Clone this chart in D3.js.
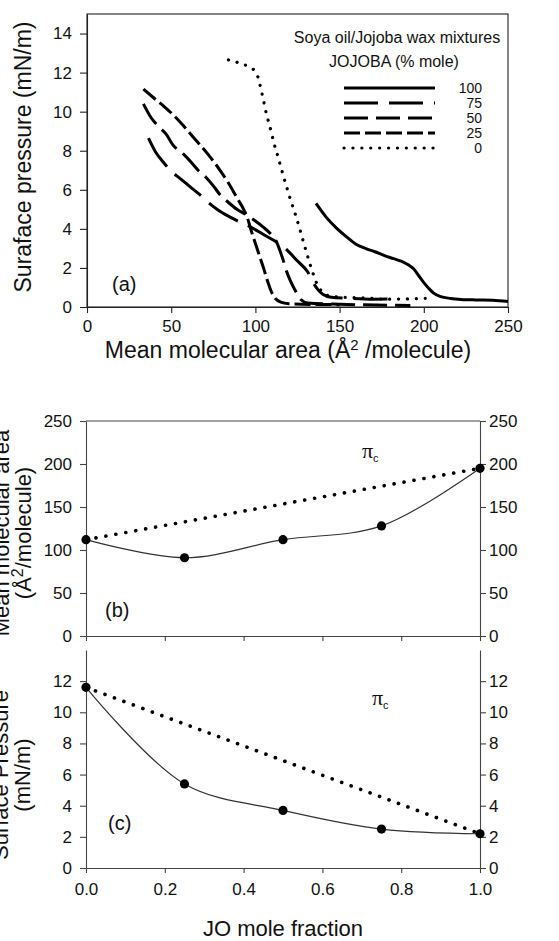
<!DOCTYPE html>
<html>
<head>
<meta charset="utf-8">
<script src="https://cdn.jsdelivr.net/npm/d3@7"></script>
<style>
body { margin: 0; background: #fff; }
text { font-family: "Liberation Sans", Arial, sans-serif; fill: #111; }
</style>
</head>
<body>
<div id="chart"></div>
<script>
// panel (a) isotherms, [mean molecular area, surface pressure]
var jojoba100 = [[136,5.3],[142,4.6],[148,4.05],[154,3.6],[160,3.2],[166,2.98],[171,2.83],[177,2.62],[182,2.48],[187,2.33],[191,2.15],[194.5,1.9],[197,1.6],[200,1.25],[203,0.95],[206,0.7],[210,0.53],[216,0.44],[222,0.39],[231,0.36],[241,0.34],[250,0.28]];
var jojoba75 = [[36.5,8.65],[41,7.9],[45,7.45],[50,6.95],[55,6.6],[62,6.1],[67,5.75],[72,5.35],[78,4.95],[85,4.6],[92,4.3],[97,4.1],[105,3.7],[113,3.3],[119,2.9],[125,2.35],[131,1.8],[134,1.3],[137,0.9],[140,0.65],[145,0.5],[155,0.45],[170,0.4],[185,0.42]];
var jojoba50 = [[33.5,10.4],[38,9.7],[43,9.2],[47,8.85],[51,8.3],[57,7.85],[62,7.4],[66,7.0],[71,6.6],[75,6.2],[79,5.75],[84,5.35],[89,5.0],[95,4.7],[100,4.4],[104.5,4.1],[109,3.75],[112.5,3.35],[114.5,2.9],[116.5,2.4],[118,1.95],[121,1.3],[124.5,0.72],[127,0.38],[131,0.2],[150,0.14],[172,0.1],[192,0.08]];
var jojoba25 = [[33.5,11.15],[39,10.75],[46,10.25],[55,9.5],[63,8.7],[72,7.8],[79,7.0],[84,6.35],[89,5.6],[93,5.0],[95.5,4.5],[97,4.05],[99.8,3.3],[102.7,2.55],[105,1.95],[107,1.38],[109.8,0.72],[112,0.42],[115,0.25],[120,0.17],[135,0.13],[150,0.12]];
var jojoba0 = [[84,12.65],[90,12.5],[96,12.3],[100.5,12.0],[102.5,11.45],[104.5,10.7],[106.5,9.9],[108.7,9.2],[111,8.4],[113.4,7.7],[116,6.9],[118.7,6.1],[121,5.45],[123.5,4.8],[126,4.1],[128.3,3.4],[130.5,2.75],[132.4,2.2],[134.5,1.65],[136.5,1.2],[138.5,0.9],[141,0.68],[145,0.55],[152,0.5],[165,0.46],[178,0.4],[192,0.42],[205,0.46]];

var legendNames = ["100", "75", "50", "25", "0"];
var areaTicks = [0, 50, 100, 150, 200, 250];
var pressureTicks = [0, 2, 4, 6, 8, 10, 12, 14];

// panels (b) and (c), collapse point vs JO mole fraction
var moleFraction = [0, 0.25, 0.5, 0.75, 1.0];
var collapseArea = [112, 91, 112, 128, 195];
var collapsePressure = [11.6, 5.4, 3.7, 2.5, 2.2];
var areaTicksB = [0, 50, 100, 150, 200, 250];
var pressureTicksC = [0, 2, 4, 6, 8, 10, 12];
var fractionTicks = [0, 0.2, 0.4, 0.6, 0.8, 1.0];

var svg = d3.select("#chart")
    .append("svg")
    .attr("width", 559)
    .attr("height", 941);

var tickFont = 17;

function styleAxis(g) {
    g.attr("font-size", tickFont)
        .attr("font-family", "Liberation Sans, Arial, sans-serif")
        .attr("color", "#222");
    g.selectAll("line").attr("stroke-width", 1.1);
    g.select(".domain").attr("stroke-width", 1.1);
}

// ---------- panel (a) ----------
var xA = d3.scaleLinear().domain([0, 250]).range([87, 508]);
var yA = d3.scaleLinear().domain([0, 15]).range([307, 14]);

svg.append("rect")
    .attr("x", xA(0)).attr("y", yA(15))
    .attr("width", xA(250) - xA(0)).attr("height", yA(0) - yA(15))
    .attr("fill", "none").attr("stroke", "#222").attr("stroke-width", 1.1);

svg.append("g")
    .attr("transform", "translate(" + xA(0) + ",0)")
    .call(d3.axisLeft(yA).tickValues(pressureTicks).tickSize(7).tickSizeOuter(0).tickPadding(8))
    .call(styleAxis);

svg.append("g")
    .attr("transform", "translate(0," + yA(0) + ")")
    .call(d3.axisBottom(xA).tickValues(areaTicks).tickSize(6).tickSizeOuter(0).tickPadding(7))
    .call(styleAxis);

var curvesA = [
    { name: legendNames[0], data: jojoba100, dash: null },
    { name: legendNames[1], data: jojoba75, dash: "34,11" },
    { name: legendNames[2], data: jojoba50, dash: "24,8" },
    { name: legendNames[3], data: jojoba25, dash: "16,5" },
    { name: legendNames[4], data: jojoba0, dash: "0.1,8.8" }
];

var lineA = d3.line()
    .x(function(d) { return xA(d[0]); })
    .y(function(d) { return yA(d[1]); })
    .curve(d3.curveMonotoneX);

svg.selectAll(".isotherm")
    .data(curvesA)
    .enter().append("path")
    .attr("class", "isotherm")
    .attr("d", function(c) { return lineA(c.data); })
    .attr("fill", "none")
    .attr("stroke", "#000")
    .attr("stroke-width", function(c) { return c.name === "0" ? 3.2 : 3; })
    .attr("stroke-linecap", function(c) { return c.name === "0" ? "round" : "butt"; })
    .attr("stroke-dasharray", function(c) { return c.dash; });

// legend
svg.append("text").attr("x", 397).attr("y", 43)
    .attr("text-anchor", "middle").attr("font-size", 16)
    .text("Soya oil/Jojoba wax mixtures");
svg.append("text").attr("x", 394).attr("y", 67)
    .attr("text-anchor", "middle").attr("font-size", 16)
    .text("JOJOBA (% mole)");

var legend = svg.selectAll(".legend-row")
    .data(curvesA)
    .enter().append("g")
    .attr("class", "legend-row")
    .attr("transform", function(c, i) { return "translate(0," + (88 + i * 15) + ")"; });

legend.append("line")
    .attr("x1", 344).attr("x2", 435)
    .attr("stroke", "#000")
    .attr("stroke-width", function(c) { return c.name === "0" ? 3.2 : 3; })
    .attr("stroke-linecap", function(c) { return c.name === "0" ? "round" : "butt"; })
    .attr("stroke-dasharray", function(c) { return c.dash; });

legend.append("text")
    .attr("x", 482).attr("y", 5)
    .attr("text-anchor", "end").attr("font-size", 14)
    .text(function(c) { return c.name; });

svg.append("text").attr("x", 112).attr("y", 291).attr("font-size", 20).text("(a)");

// axis titles
var titleA = svg.append("text")
    .attr("x", 288).attr("y", 358)
    .attr("text-anchor", "middle").attr("font-size", 23);
titleA.append("tspan").text("Mean molecular area (Å");
titleA.append("tspan").attr("dy", -8).attr("font-size", 15).text("2");
titleA.append("tspan").attr("dy", 8).text(" /molecule)");

svg.append("text")
    .attr("transform", "translate(31,157) rotate(-90)")
    .attr("text-anchor", "middle").attr("font-size", 23)
    .text("Suraface pressure (mN/m)");

// ---------- panels (b) and (c) ----------
var xB = d3.scaleLinear().domain([0, 1]).range([86, 480]);
var yB = d3.scaleLinear().domain([0, 250]).range([636, 421]);
var yC = d3.scaleLinear().domain([0, 14]).range([868, 650]);

var axisColor = "#444";

function drawSidePanel(yScale, ticks, values, showTop) {
    svg.append("g")
        .attr("transform", "translate(" + xB(0) + ",0)")
        .call(d3.axisLeft(yScale).tickValues(ticks).tickSize(6).tickSizeOuter(0).tickPadding(8))
        .call(styleAxis)
        .attr("color", axisColor);
    svg.append("g")
        .attr("transform", "translate(" + xB(1) + ",0)")
        .call(d3.axisRight(yScale).tickValues(ticks).tickSize(6).tickSizeOuter(0).tickPadding(3))
        .call(styleAxis)
        .attr("color", axisColor);
    if (showTop) {
        svg.append("line")
            .attr("x1", xB(0)).attr("x2", xB(1))
            .attr("y1", yScale.range()[1]).attr("y2", yScale.range()[1])
            .attr("stroke", axisColor).attr("stroke-width", 1.1);
    }

    var pts = moleFraction.map(function(f, i) { return [f, values[i]]; });

    // ideal mixing line between the pure components
    svg.append("line")
        .attr("x1", xB(pts[0][0])).attr("y1", yScale(pts[0][1]))
        .attr("x2", xB(pts[pts.length - 1][0])).attr("y2", yScale(pts[pts.length - 1][1]))
        .attr("stroke", "#000").attr("stroke-width", 3.6)
        .attr("stroke-linecap", "round")
        .attr("stroke-dasharray", "0.1,10");

    var smooth = d3.line()
        .x(function(d) { return xB(d[0]); })
        .y(function(d) { return yScale(d[1]); })
        .curve(d3.curveCatmullRom.alpha(0.5));

    svg.append("path")
        .attr("d", smooth(pts))
        .attr("fill", "none")
        .attr("stroke", "#333")
        .attr("stroke-width", 1.2);

    svg.selectAll(null)
        .data(pts)
        .enter().append("circle")
        .attr("cx", function(d) { return xB(d[0]); })
        .attr("cy", function(d) { return yScale(d[1]); })
        .attr("r", 4.6)
        .attr("fill", "#000");
}

drawSidePanel(yB, areaTicksB, collapseArea, true);
drawSidePanel(yC, pressureTicksC, collapsePressure, false);

svg.append("g")
    .attr("transform", "translate(0," + yB(0) + ")")
    .call(d3.axisBottom(xB).tickValues(fractionTicks).tickSize(5).tickSizeOuter(0).tickFormat(""))
    .call(styleAxis)
    .attr("color", axisColor);

svg.append("g")
    .attr("transform", "translate(0," + yC(0) + ")")
    .call(d3.axisBottom(xB).tickValues(fractionTicks).tickSize(5).tickSizeOuter(0).tickPadding(10).tickFormat(d3.format(".1f")))
    .call(styleAxis)
    .attr("color", axisColor);

function piLabel(x, y) {
    var t = svg.append("text").attr("x", x).attr("y", y);
    t.append("tspan")
        .attr("font-family", "Liberation Serif, Times New Roman, serif")
        .attr("font-size", 22).text("π");
    t.append("tspan").attr("dy", 4).attr("font-size", 11).text("c");
}
piLabel(362, 458);
piLabel(372, 705);

svg.append("text").attr("x", 105).attr("y", 617).attr("font-size", 20).text("(b)");
svg.append("text").attr("x", 108).attr("y", 830).attr("font-size", 20).text("(c)");

// side titles run off the left edge, as in the original figure
var titleB = svg.append("text")
    .attr("transform", "translate(0,533) rotate(-90)")
    .attr("text-anchor", "middle").attr("font-size", 22);
titleB.append("tspan").attr("x", 0).attr("y", 9).text("Mean molecular area");
var titleB2 = titleB.append("tspan").attr("x", 0).attr("y", 31);
titleB2.append("tspan").text("(Å");
titleB2.append("tspan").attr("dy", -8).attr("font-size", 16).text("2");
titleB2.append("tspan").attr("dy", 8).text("/molecule)");

var titleC = svg.append("text")
    .attr("transform", "translate(0,775) rotate(-90)")
    .attr("text-anchor", "middle").attr("font-size", 22);
titleC.append("tspan").attr("x", 0).attr("y", 8).text("Surface Pressure");
titleC.append("tspan").attr("x", 0).attr("y", 30).text("(mN/m)");

svg.append("text")
    .attr("x", 283).attr("y", 936)
    .attr("text-anchor", "middle").attr("font-size", 22)
    .text("JO mole fraction");
</script>
</body>
</html>
